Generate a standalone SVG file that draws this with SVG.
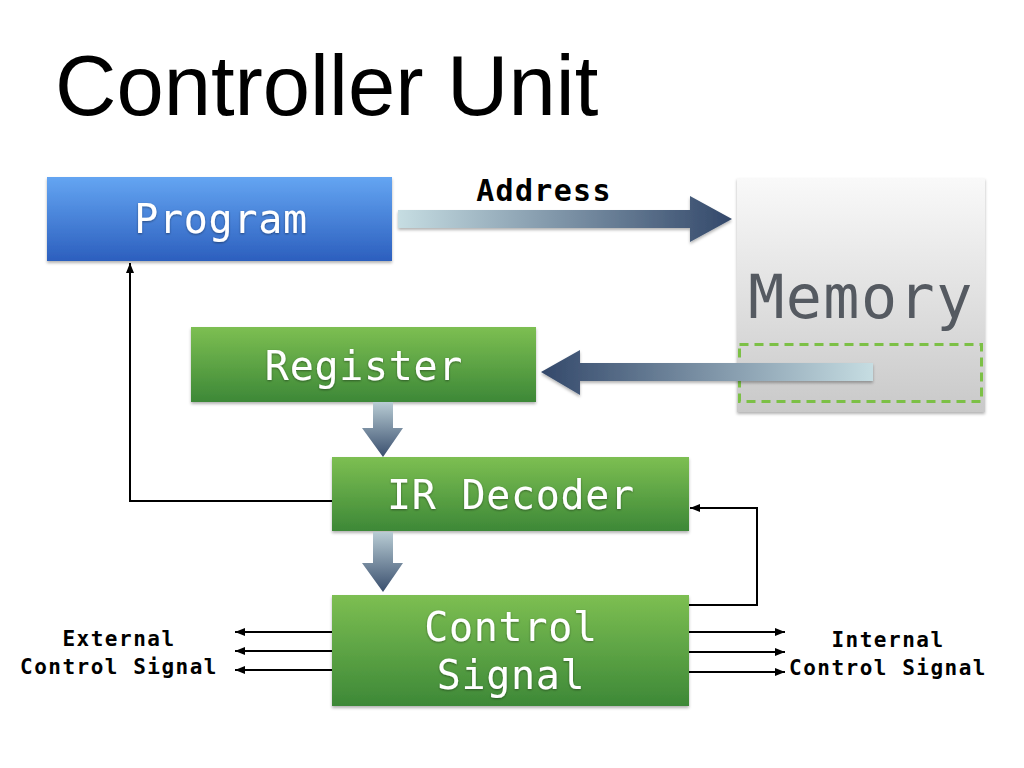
<svg xmlns="http://www.w3.org/2000/svg" width="1024" height="768" viewBox="0 0 1024 768">
<defs>
<linearGradient id="gBlue" x1="0" y1="0" x2="0" y2="1"><stop offset="0" stop-color="#64a5f2"/><stop offset="1" stop-color="#2c5fbe"/></linearGradient>
<linearGradient id="gGreen" x1="0" y1="0" x2="0" y2="1"><stop offset="0" stop-color="#7dbf52"/><stop offset="1" stop-color="#3d8837"/></linearGradient>
<linearGradient id="gGray" x1="0" y1="0" x2="0" y2="1"><stop offset="0" stop-color="#f9f9f9"/><stop offset="1" stop-color="#c9c9c9"/></linearGradient>
<linearGradient id="gArrR" x1="0" y1="0" x2="1" y2="0"><stop offset="0" stop-color="#c6dde2"/><stop offset="1" stop-color="#33486a"/></linearGradient>
<linearGradient id="gArrL" x1="1" y1="0" x2="0" y2="0"><stop offset="0" stop-color="#c6dde2"/><stop offset="1" stop-color="#33486a"/></linearGradient>
<linearGradient id="gArrD" x1="0" y1="0" x2="0" y2="1"><stop offset="0" stop-color="#b8ccd4"/><stop offset="1" stop-color="#3a4f6e"/></linearGradient>
<filter id="sh" x="-10%" y="-10%" width="120%" height="130%"><feDropShadow dx="0" dy="2" stdDeviation="1.5" flood-color="#000" flood-opacity="0.3"/></filter>
<filter id="tsh" x="-10%" y="-20%" width="120%" height="140%"><feDropShadow dx="0" dy="1" stdDeviation="1" flood-color="#000" flood-opacity="0.4"/></filter>
<marker id="ah" viewBox="0 0 10 8" refX="10" refY="4" markerWidth="10" markerHeight="8" markerUnits="userSpaceOnUse" orient="auto"><path d="M0,0 L10,4 L0,8 Z" fill="#000"/></marker>
</defs>
<style>
.node text{font-family:"DejaVu Sans Mono","Liberation Mono",monospace;fill:#fff;font-size:40px;text-anchor:middle;letter-spacing:0.7px}
.lbl{font-family:"DejaVu Sans Mono","Liberation Mono",monospace;font-weight:bold;fill:#000;text-anchor:middle}
.ln{fill:none;stroke:#000;stroke-width:2}
</style>
<text x="55" y="115" font-family="Liberation Sans, Arial, sans-serif" font-size="85" fill="#000">Controller Unit</text>

<g id="memory">
<rect x="737" y="178" width="248" height="234" fill="url(#gGray)" filter="url(#sh)"/>
<text x="861" y="318" font-family="DejaVu Sans Mono, Liberation Mono, monospace" font-size="60" fill="#555a61" text-anchor="middle" letter-spacing="1.5">Memory</text>
<rect x="739.5" y="344.5" width="242" height="57" fill="none" stroke="#7cc046" stroke-width="3" stroke-dasharray="9,6"/>
</g>

<g id="program" class="node">
<rect x="47" y="177" width="345" height="84" fill="url(#gBlue)" filter="url(#sh)"/>
<text x="221" y="233" filter="url(#tsh)">Program</text>
</g>
<g id="register" class="node">
<rect x="191" y="327" width="345" height="75" fill="url(#gGreen)" filter="url(#sh)"/>
<text x="364" y="380" filter="url(#tsh)">Register</text>
</g>
<g id="irdecoder" class="node">
<rect x="332" y="457" width="357" height="74" fill="url(#gGreen)" filter="url(#sh)"/>
<text x="511" y="509" filter="url(#tsh)">IR Decoder</text>
</g>
<g id="controlsignal" class="node">
<rect x="332" y="595" width="357" height="111" fill="url(#gGreen)" filter="url(#sh)"/>
<text x="511" y="641" filter="url(#tsh)">Control</text>
<text x="511" y="689" filter="url(#tsh)">Signal</text>
</g>

<g id="connectors">
<path d="M398,210 H690 V196 L732,219 L690,242 V228 H398 Z" fill="url(#gArrR)" filter="url(#sh)"/>
<text class="lbl" x="544" y="201" font-size="30" letter-spacing="1.3">Address</text>
<path d="M873,363 H580 V350 L541,372 L580,395 V381 H873 Z" fill="url(#gArrL)" filter="url(#sh)"/>
<path d="M373,402 H393 V428 H403 L383,457 L362,428 H373 Z" fill="url(#gArrD)"/>
<path d="M373,532 H393 V563 H403 L383,592 L362,563 H373 Z" fill="url(#gArrD)"/>
<path class="ln" d="M332,501 H130 V263" marker-end="url(#ah)"/>
<path class="ln" d="M689,605 H757 V508 H690" marker-end="url(#ah)"/>
<line class="ln" x1="332" y1="632" x2="235" y2="632" marker-end="url(#ah)"/>
<line class="ln" x1="332" y1="651" x2="235" y2="651" marker-end="url(#ah)"/>
<line class="ln" x1="332" y1="670" x2="235" y2="670" marker-end="url(#ah)"/>
<line class="ln" x1="689" y1="632" x2="785" y2="632" marker-end="url(#ah)"/>
<line class="ln" x1="689" y1="652" x2="785" y2="652" marker-end="url(#ah)"/>
<line class="ln" x1="689" y1="672" x2="785" y2="672" marker-end="url(#ah)"/>
</g>
<text class="lbl" x="119" y="646" font-size="21" letter-spacing="1.5">External</text>
<text class="lbl" x="119" y="674" font-size="21" letter-spacing="1.5">Control Signal</text>
<text class="lbl" x="888" y="647" font-size="21" letter-spacing="1.5">Internal</text>
<text class="lbl" x="888" y="675" font-size="21" letter-spacing="1.5">Control Signal</text>
</svg>
